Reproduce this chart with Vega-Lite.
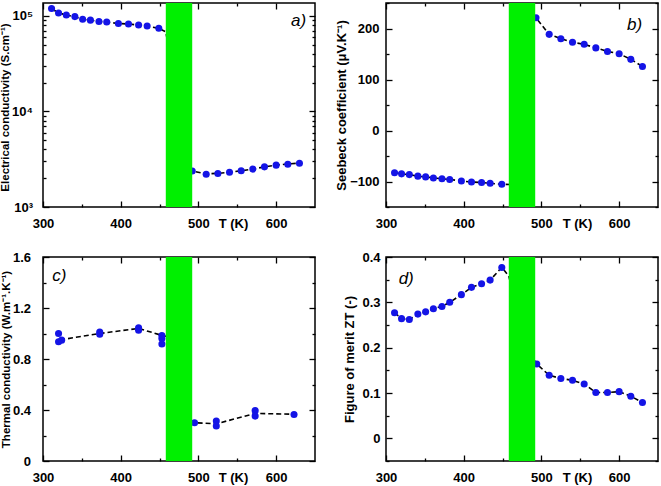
{
  "$schema": "https://vega.github.io/schema/vega-lite/v6.json",
  "padding": {"left": -2, "top": 1, "right": 0, "bottom": 0},
  "background": "white",
  "config": {
    "view": {"stroke": "black", "strokeWidth": 1.5},
    "axis": {
      "domain": false, "grid": false, "ticks": true, "tickColor": "#000000", "tickWidth": 1.3, "tickOpacity": 1, "zindex": 1,
      "labelFont": "Liberation Sans", "labelFontWeight": "bold", "labelFontSize": 13, "labelColor": "black",
      "titleFont": "Liberation Sans", "titleFontWeight": "bold", "titleFontSize": 11.5, "titleColor": "black",
      "labelFlush": false, "labelOverlap": false
    }
  },
  "datasets": {
    "a_pts": [
      {"T": 311, "v": 119000}, {"T": 320, "v": 107000}, {"T": 330, "v": 102000}, {"T": 341, "v": 98000},
      {"T": 351, "v": 92000}, {"T": 361, "v": 90000}, {"T": 372, "v": 87000}, {"T": 382, "v": 86000},
      {"T": 397, "v": 83000}, {"T": 410, "v": 82000}, {"T": 423, "v": 80000}, {"T": 434, "v": 78000},
      {"T": 449, "v": 74000},
      {"T": 492, "v": 2380}, {"T": 510, "v": 2200}, {"T": 525, "v": 2240}, {"T": 540, "v": 2310},
      {"T": 555, "v": 2390}, {"T": 570, "v": 2490}, {"T": 585, "v": 2630}, {"T": 600, "v": 2740},
      {"T": 615, "v": 2800}, {"T": 630, "v": 2870}
    ],
    "a_line": [
      {"T": 311, "v": 119000}, {"T": 320, "v": 107000}, {"T": 330, "v": 102000}, {"T": 341, "v": 97000},
      {"T": 351, "v": 92000}, {"T": 361, "v": 90000}, {"T": 372, "v": 87000}, {"T": 382, "v": 86000},
      {"T": 397, "v": 83000}, {"T": 410, "v": 82000}, {"T": 423, "v": 80000}, {"T": 434, "v": 78000},
      {"T": 449, "v": 74000}, {"T": 458, "v": 68000}, {"T": 490, "v": 2400},
      {"T": 510, "v": 2220}, {"T": 525, "v": 2250}, {"T": 540, "v": 2310},
      {"T": 555, "v": 2390}, {"T": 570, "v": 2490}, {"T": 585, "v": 2630}, {"T": 600, "v": 2740},
      {"T": 615, "v": 2820}, {"T": 630, "v": 2880}
    ],
    "b_pts": [
      {"T": 311, "v": -83}, {"T": 320, "v": -85}, {"T": 330, "v": -86.5}, {"T": 341, "v": -89.5},
      {"T": 351, "v": -91}, {"T": 361, "v": -93}, {"T": 372, "v": -94.5}, {"T": 382, "v": -96},
      {"T": 397, "v": -99}, {"T": 410, "v": -101}, {"T": 423, "v": -102}, {"T": 434, "v": -103.5},
      {"T": 449, "v": -105.5},
      {"T": 493, "v": 221}, {"T": 510, "v": 188.5}, {"T": 525, "v": 180}, {"T": 540, "v": 173},
      {"T": 555, "v": 169}, {"T": 570, "v": 162}, {"T": 585, "v": 155}, {"T": 600, "v": 150.5},
      {"T": 615, "v": 139.5}, {"T": 630, "v": 125.5}
    ],
    "b_line": [
      {"T": 311, "v": -83}, {"T": 320, "v": -85}, {"T": 330, "v": -86.5}, {"T": 341, "v": -89.5},
      {"T": 351, "v": -91}, {"T": 361, "v": -93}, {"T": 372, "v": -94.5}, {"T": 382, "v": -96},
      {"T": 397, "v": -99}, {"T": 410, "v": -101}, {"T": 423, "v": -102}, {"T": 434, "v": -103.5},
      {"T": 449, "v": -105.5}, {"T": 462, "v": -106}, {"T": 488, "v": 226},
      {"T": 493, "v": 221}, {"T": 510, "v": 188.5}, {"T": 525, "v": 180}, {"T": 540, "v": 173},
      {"T": 555, "v": 169}, {"T": 570, "v": 162}, {"T": 585, "v": 155}, {"T": 600, "v": 150.5},
      {"T": 615, "v": 139.5}, {"T": 630, "v": 125.5}
    ],
    "c_pts": [
      {"T": 320, "v": 1.0}, {"T": 320, "v": 0.935}, {"T": 324, "v": 0.948},
      {"T": 373, "v": 1.012}, {"T": 373, "v": 0.995},
      {"T": 423, "v": 1.045}, {"T": 423, "v": 1.025},
      {"T": 453, "v": 0.985}, {"T": 453, "v": 0.96}, {"T": 453, "v": 0.918},
      {"T": 495, "v": 0.30},
      {"T": 523, "v": 0.313}, {"T": 523, "v": 0.275},
      {"T": 573, "v": 0.395}, {"T": 573, "v": 0.352},
      {"T": 623, "v": 0.365}
    ],
    "c_line": [
      {"T": 322, "v": 0.95}, {"T": 373, "v": 1.0}, {"T": 423, "v": 1.04}, {"T": 453, "v": 0.985},
      {"T": 465, "v": 0.97}, {"T": 485, "v": 0.33}, {"T": 495, "v": 0.30}, {"T": 523, "v": 0.292},
      {"T": 573, "v": 0.373}, {"T": 623, "v": 0.367}
    ],
    "d_pts": [
      {"T": 311, "v": 0.277}, {"T": 320, "v": 0.264}, {"T": 330, "v": 0.262}, {"T": 341, "v": 0.274},
      {"T": 351, "v": 0.279}, {"T": 361, "v": 0.286}, {"T": 372, "v": 0.291}, {"T": 382, "v": 0.30},
      {"T": 397, "v": 0.317}, {"T": 410, "v": 0.333}, {"T": 423, "v": 0.341}, {"T": 434, "v": 0.349},
      {"T": 449, "v": 0.377},
      {"T": 494, "v": 0.164}, {"T": 510, "v": 0.139}, {"T": 525, "v": 0.132}, {"T": 540, "v": 0.128},
      {"T": 555, "v": 0.12}, {"T": 570, "v": 0.101}, {"T": 585, "v": 0.101}, {"T": 600, "v": 0.103},
      {"T": 615, "v": 0.093}, {"T": 630, "v": 0.079}
    ],
    "d_line": [
      {"T": 311, "v": 0.277}, {"T": 320, "v": 0.264}, {"T": 330, "v": 0.262}, {"T": 341, "v": 0.274},
      {"T": 351, "v": 0.279}, {"T": 361, "v": 0.286}, {"T": 372, "v": 0.291}, {"T": 382, "v": 0.30},
      {"T": 397, "v": 0.317}, {"T": 410, "v": 0.333}, {"T": 423, "v": 0.341}, {"T": 434, "v": 0.349},
      {"T": 449, "v": 0.377}, {"T": 458, "v": 0.358}, {"T": 480, "v": 0.2},
      {"T": 494, "v": 0.164}, {"T": 510, "v": 0.139}, {"T": 525, "v": 0.132}, {"T": 540, "v": 0.128},
      {"T": 555, "v": 0.12}, {"T": 570, "v": 0.101}, {"T": 585, "v": 0.101}, {"T": 600, "v": 0.103},
      {"T": 615, "v": 0.093}, {"T": 630, "v": 0.079}
    ],
    "band": [{"T1": 458, "T2": 492}]
  },
  "columns": 2,
  "bounds": "flush",
  "spacing": {"row": 50, "column": 71},
  "concat": [
    {
      "width": 272, "height": 204,
      "resolve": {"axis": {"x": "independent", "y": "independent"}},
      "layer": [
        {
          "data": {"name": "a_line"},
          "mark": {"type": "line", "color": "black", "strokeDash": [5, 3], "strokeWidth": 1.6},
          "encoding": {
            "x": {"field": "T", "type": "quantitative", "scale": {"domain": [300, 650], "nice": false},
              "axis": {"orient": "bottom", "values": [300, 400, 500, 600], "ticks": true, "tickColor": "black", "tickSize": 6, "offset": -6,
                "labelPadding": 10, "title": "T (K)", "titleX": 190, "titleY": 22, "titleBaseline": "middle", "titleFontSize": 13}},
            "y": {"field": "v", "type": "quantitative", "scale": {"type": "log", "domain": [1000, 136000], "nice": false},
              "axis": {"orient": "left", "values": [1000, 10000, 100000], "ticks": true, "tickColor": "black", "tickSize": 6, "offset": -6,
                "labelExpr": "datum.value == 1000 ? '10³' : datum.value == 10000 ? '10⁴' : '10⁵'",
                "labelPadding": 10.5, "title": "Electrical conductivity (S.cm⁻¹)", "titleX": -43.5, "titleY": 104, "titleBaseline": "middle", "titleAlign": "center"}}
          }
        },
        {
          "data": {"name": "a_pts"},
          "mark": {"type": "circle", "size": 50, "color": "#1414e6", "opacity": 1},
          "encoding": {
            "x": {"field": "T", "type": "quantitative",
              "axis": {"orient": "bottom", "values": [350, 450, 550], "ticks": true, "tickColor": "black", "tickSize": 3, "offset": -3, "labels": false, "title": null}},
            "y": {"field": "v", "type": "quantitative",
              "axis": {"orient": "left", "values": [2000, 3000, 4000, 5000, 6000, 7000, 8000, 9000, 20000, 30000, 40000, 50000, 60000, 70000, 80000, 90000], "ticks": true, "tickColor": "black", "tickSize": 3, "offset": -3, "labels": false, "title": null}}
          }
        },
        {
          "data": {"name": "band"},
          "mark": {"type": "rect", "color": "#00f000"},
          "encoding": {
            "x": {"field": "T1", "type": "quantitative", "axis": null},
            "x2": {"field": "T2"}
          }
        },
        {
          "data": {"name": "a_pts"},
          "mark": {"type": "point", "opacity": 0},
          "encoding": {
            "x": {"field": "T", "type": "quantitative",
              "axis": {"orient": "top", "values": [300, 400, 500, 600], "ticks": true, "tickColor": "black", "tickSize": 6, "offset": -6, "labels": false, "title": null}},
            "y": {"field": "v", "type": "quantitative",
              "axis": {"orient": "right", "values": [1000, 10000, 100000], "ticks": true, "tickColor": "black", "tickSize": 6, "offset": -6, "labels": false, "title": null}}
          }
        },
        {
          "data": {"name": "a_pts"},
          "mark": {"type": "point", "opacity": 0},
          "encoding": {
            "x": {"field": "T", "type": "quantitative",
              "axis": {"orient": "top", "values": [350, 450, 550], "ticks": true, "tickColor": "black", "tickSize": 3, "offset": -3, "labels": false, "title": null}},
            "y": {"field": "v", "type": "quantitative",
              "axis": {"orient": "right", "values": [2000, 3000, 4000, 5000, 6000, 7000, 8000, 9000, 20000, 30000, 40000, 50000, 60000, 70000, 80000, 90000], "ticks": true, "tickColor": "black", "tickSize": 3, "offset": -3, "labels": false, "title": null}}
          }
        },
        {
          "data": {"values": [{}]},
          "mark": {"type": "text", "font": "Liberation Sans", "fontStyle": "italic", "fontSize": 17, "color": "black", "baseline": "middle", "align": "center"},
          "encoding": {
            "x": {"datum": 629, "type": "quantitative", "axis": null},
            "y": {"datum": 88000, "type": "quantitative", "axis": null},
            "text": {"value": "a)"}
          }
        }
      ]
    },
    {
      "width": 272, "height": 204,
      "resolve": {"axis": {"x": "independent", "y": "independent"}},
      "layer": [
        {
          "data": {"name": "b_line"},
          "mark": {"type": "line", "color": "black", "strokeDash": [5, 3], "strokeWidth": 1.6},
          "encoding": {
            "x": {"field": "T", "type": "quantitative", "scale": {"domain": [300, 650], "nice": false},
              "axis": {"orient": "bottom", "values": [300, 400, 500, 600], "ticks": true, "tickColor": "black", "tickSize": 6, "offset": -6,
                "labelPadding": 10, "title": "T (K)", "titleX": 191, "titleY": 22, "titleBaseline": "middle", "titleFontSize": 13}},
            "y": {"field": "v", "type": "quantitative", "scale": {"domain": [-150, 250], "nice": false},
              "axis": {"orient": "left", "values": [-100, 0, 100, 200], "ticks": true, "tickColor": "black", "tickSize": 6, "offset": -6,
                "labelPadding": 7, "title": "Seebeck coefficient (μV.K⁻¹)", "titleX": -51, "titleY": 102, "titleBaseline": "middle", "titleAlign": "center", "titleFontSize": 13}}
          }
        },
        {
          "data": {"name": "b_pts"},
          "mark": {"type": "circle", "size": 50, "color": "#1414e6", "opacity": 1},
          "encoding": {
            "x": {"field": "T", "type": "quantitative",
              "axis": {"orient": "bottom", "values": [350, 450, 550], "ticks": true, "tickColor": "black", "tickSize": 3, "offset": -3, "labels": false, "title": null}},
            "y": {"field": "v", "type": "quantitative",
              "axis": {"orient": "left", "values": [-150, -50, 50, 150, 250], "ticks": true, "tickColor": "black", "tickSize": 3, "offset": -3, "labels": false, "title": null}}
          }
        },
        {
          "data": {"name": "band"},
          "mark": {"type": "rect", "color": "#00f000"},
          "encoding": {
            "x": {"field": "T1", "type": "quantitative", "axis": null},
            "x2": {"field": "T2"}
          }
        },
        {
          "data": {"name": "b_pts"},
          "mark": {"type": "point", "opacity": 0},
          "encoding": {
            "x": {"field": "T", "type": "quantitative",
              "axis": {"orient": "top", "values": [300, 400, 500, 600], "ticks": true, "tickColor": "black", "tickSize": 6, "offset": -6, "labels": false, "title": null}},
            "y": {"field": "v", "type": "quantitative",
              "axis": {"orient": "right", "values": [-100, 0, 100, 200], "ticks": true, "tickColor": "black", "tickSize": 6, "offset": -6, "labels": false, "title": null}}
          }
        },
        {
          "data": {"name": "b_pts"},
          "mark": {"type": "point", "opacity": 0},
          "encoding": {
            "x": {"field": "T", "type": "quantitative",
              "axis": {"orient": "top", "values": [350, 450, 550], "ticks": true, "tickColor": "black", "tickSize": 3, "offset": -3, "labels": false, "title": null}},
            "y": {"field": "v", "type": "quantitative",
              "axis": {"orient": "right", "values": [-150, -50, 50, 150, 250], "ticks": true, "tickColor": "black", "tickSize": 3, "offset": -3, "labels": false, "title": null}}
          }
        },
        {
          "data": {"values": [{}]},
          "mark": {"type": "text", "font": "Liberation Sans", "fontStyle": "italic", "fontSize": 17, "color": "black", "baseline": "middle", "align": "center"},
          "encoding": {
            "x": {"datum": 620, "type": "quantitative", "axis": null},
            "y": {"datum": 206, "type": "quantitative", "axis": null},
            "text": {"value": "b)"}
          }
        }
      ]
    },
    {
      "width": 272, "height": 204,
      "resolve": {"axis": {"x": "independent", "y": "independent"}},
      "layer": [
        {
          "data": {"name": "c_line"},
          "mark": {"type": "line", "color": "black", "strokeDash": [5, 3], "strokeWidth": 1.6},
          "encoding": {
            "x": {"field": "T", "type": "quantitative", "scale": {"domain": [300, 650], "nice": false},
              "axis": {"orient": "bottom", "values": [300, 400, 500, 600], "ticks": true, "tickColor": "black", "tickSize": 6, "offset": -6,
                "labelPadding": 10, "title": "T (K)", "titleX": 190, "titleY": 22, "titleBaseline": "middle", "titleFontSize": 13}},
            "y": {"field": "v", "type": "quantitative", "scale": {"domain": [0, 1.6], "nice": false},
              "axis": {"orient": "left", "values": [0, 0.4, 0.8, 1.2, 1.6], "ticks": true, "tickColor": "black", "tickSize": 6, "offset": -6,
                "labelExpr": "datum.value == 0 ? '0' : format(datum.value, '.1f')",
                "labelPadding": 12.5, "title": "Thermal conductivity (W.m⁻¹.K⁻¹)", "titleX": -43, "titleY": 102, "titleBaseline": "middle", "titleAlign": "center"}}
          }
        },
        {
          "data": {"name": "c_pts"},
          "mark": {"type": "circle", "size": 50, "color": "#1414e6", "opacity": 1},
          "encoding": {
            "x": {"field": "T", "type": "quantitative",
              "axis": {"orient": "bottom", "values": [350, 450, 550], "ticks": true, "tickColor": "black", "tickSize": 3, "offset": -3, "labels": false, "title": null}},
            "y": {"field": "v", "type": "quantitative",
              "axis": {"orient": "left", "values": [0.2, 0.6, 1.0, 1.4], "ticks": true, "tickColor": "black", "tickSize": 3, "offset": -3, "labels": false, "title": null}}
          }
        },
        {
          "data": {"name": "band"},
          "mark": {"type": "rect", "color": "#00f000"},
          "encoding": {
            "x": {"field": "T1", "type": "quantitative", "axis": null},
            "x2": {"field": "T2"}
          }
        },
        {
          "data": {"name": "c_pts"},
          "mark": {"type": "point", "opacity": 0},
          "encoding": {
            "x": {"field": "T", "type": "quantitative",
              "axis": {"orient": "top", "values": [300, 400, 500, 600], "ticks": true, "tickColor": "black", "tickSize": 6, "offset": -6, "labels": false, "title": null}},
            "y": {"field": "v", "type": "quantitative",
              "axis": {"orient": "right", "values": [0, 0.4, 0.8, 1.2, 1.6], "ticks": true, "tickColor": "black", "tickSize": 6, "offset": -6, "labels": false, "title": null}}
          }
        },
        {
          "data": {"name": "c_pts"},
          "mark": {"type": "point", "opacity": 0},
          "encoding": {
            "x": {"field": "T", "type": "quantitative",
              "axis": {"orient": "top", "values": [350, 450, 550], "ticks": true, "tickColor": "black", "tickSize": 3, "offset": -3, "labels": false, "title": null}},
            "y": {"field": "v", "type": "quantitative",
              "axis": {"orient": "right", "values": [0.2, 0.6, 1.0, 1.4], "ticks": true, "tickColor": "black", "tickSize": 3, "offset": -3, "labels": false, "title": null}}
          }
        },
        {
          "data": {"values": [{}]},
          "mark": {"type": "text", "font": "Liberation Sans", "fontStyle": "italic", "fontSize": 17, "color": "black", "baseline": "middle", "align": "center"},
          "encoding": {
            "x": {"datum": 321, "type": "quantitative", "axis": null},
            "y": {"datum": 1.45, "type": "quantitative", "axis": null},
            "text": {"value": "c)"}
          }
        }
      ]
    },
    {
      "width": 272, "height": 204,
      "resolve": {"axis": {"x": "independent", "y": "independent"}},
      "layer": [
        {
          "data": {"name": "d_line"},
          "mark": {"type": "line", "color": "black", "strokeDash": [5, 3], "strokeWidth": 1.6},
          "encoding": {
            "x": {"field": "T", "type": "quantitative", "scale": {"domain": [300, 650], "nice": false},
              "axis": {"orient": "bottom", "values": [300, 400, 500, 600], "ticks": true, "tickColor": "black", "tickSize": 6, "offset": -6,
                "labelPadding": 10, "title": "T (K)", "titleX": 191, "titleY": 22, "titleBaseline": "middle", "titleFontSize": 13}},
            "y": {"field": "v", "type": "quantitative", "scale": {"domain": [-0.05, 0.4], "nice": false},
              "axis": {"orient": "left", "values": [0, 0.1, 0.2, 0.3, 0.4], "ticks": true, "tickColor": "black", "tickSize": 6, "offset": -6,
                "labelExpr": "datum.value == 0 ? '0' : format(datum.value, '.1f')",
                "labelPadding": 6, "title": "Figure of merit ZT (-)", "titleX": -42.5, "titleY": 102, "titleBaseline": "middle", "titleAlign": "center", "titleFontSize": 13}}
          }
        },
        {
          "data": {"name": "d_pts"},
          "mark": {"type": "circle", "size": 50, "color": "#1414e6", "opacity": 1},
          "encoding": {
            "x": {"field": "T", "type": "quantitative",
              "axis": {"orient": "bottom", "values": [350, 450, 550], "ticks": true, "tickColor": "black", "tickSize": 3, "offset": -3, "labels": false, "title": null}},
            "y": {"field": "v", "type": "quantitative",
              "axis": {"orient": "left", "values": [-0.05, 0.05, 0.15, 0.25, 0.35], "ticks": true, "tickColor": "black", "tickSize": 3, "offset": -3, "labels": false, "title": null}}
          }
        },
        {
          "data": {"name": "band"},
          "mark": {"type": "rect", "color": "#00f000"},
          "encoding": {
            "x": {"field": "T1", "type": "quantitative", "axis": null},
            "x2": {"field": "T2"}
          }
        },
        {
          "data": {"name": "d_pts"},
          "mark": {"type": "point", "opacity": 0},
          "encoding": {
            "x": {"field": "T", "type": "quantitative",
              "axis": {"orient": "top", "values": [300, 400, 500, 600], "ticks": true, "tickColor": "black", "tickSize": 6, "offset": -6, "labels": false, "title": null}},
            "y": {"field": "v", "type": "quantitative",
              "axis": {"orient": "right", "values": [0, 0.1, 0.2, 0.3, 0.4], "ticks": true, "tickColor": "black", "tickSize": 6, "offset": -6, "labels": false, "title": null}}
          }
        },
        {
          "data": {"name": "d_pts"},
          "mark": {"type": "point", "opacity": 0},
          "encoding": {
            "x": {"field": "T", "type": "quantitative",
              "axis": {"orient": "top", "values": [350, 450, 550], "ticks": true, "tickColor": "black", "tickSize": 3, "offset": -3, "labels": false, "title": null}},
            "y": {"field": "v", "type": "quantitative",
              "axis": {"orient": "right", "values": [-0.05, 0.05, 0.15, 0.25, 0.35], "ticks": true, "tickColor": "black", "tickSize": 3, "offset": -3, "labels": false, "title": null}}
          }
        },
        {
          "data": {"values": [{}]},
          "mark": {"type": "text", "font": "Liberation Sans", "fontStyle": "italic", "fontSize": 17, "color": "black", "baseline": "middle", "align": "center"},
          "encoding": {
            "x": {"datum": 326, "type": "quantitative", "axis": null},
            "y": {"datum": 0.351, "type": "quantitative", "axis": null},
            "text": {"value": "d)"}
          }
        }
      ]
    }
  ]
}
